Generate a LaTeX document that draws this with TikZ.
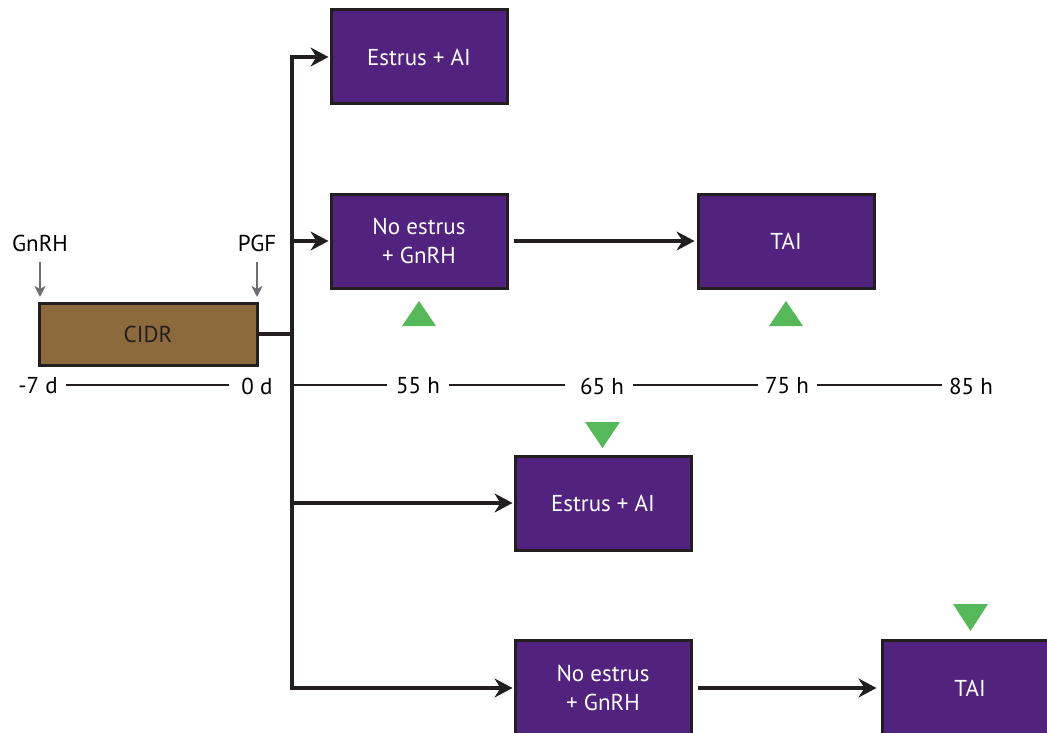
\documentclass[tikz,border=0pt]{standalone}
\usepackage{fontspec}
\setmainfont{PT Sans}
\usetikzlibrary{arrows.meta}
\definecolor{boxpurple}{HTML}{51237F}
\definecolor{cidrbrown}{HTML}{8C6A3B}
\definecolor{edge}{HTML}{231F20}
\definecolor{grayarr}{HTML}{6D6E71}
\definecolor{tri}{HTML}{55B95A}
\tikzset{
  pbox/.style={draw=edge, line width=3pt, fill=boxpurple, text=white, minimum width=176pt, minimum height=94pt, align=center, font=\fontsize{23}{29}\selectfont, inner sep=0pt},
  cidrbox/.style={draw=edge, line width=3pt, fill=cidrbrown, text=edge, minimum width=218pt, minimum height=62pt, font=\fontsize{23}{26}\selectfont, inner sep=0pt},
  lbl/.style={text=black, font=\fontsize{23}{26}\selectfont, inner sep=0pt},
  flow/.style={draw=edge, line width=4.5pt, -{Stealth[length=18pt,width=19pt,inset=6pt]}},
  trunk/.style={draw=edge, line width=4.5pt},
  gray arrow/.style={draw=grayarr, line width=2.2pt, -{Stealth[length=11pt,width=11pt,inset=3pt]}},
  tline/.style={draw=edge, line width=2.5pt},
  uptri/.style={fill=tri, draw=none},
}
\begin{document}
\begin{tikzpicture}[x=1pt,y=-1pt]
\useasboundingbox (0,0) rectangle (1047,733);
\clip (0,0) rectangle (1047,733);
% CIDR and labels
\node[cidrbox] (cidr) at (148,334) {CIDR};
\node[lbl] (gnrh) at (40,243) {GnRH};
\node[lbl] (pgf) at (257,243) {PGF};
\coordinate (gnrhA) at (40,262);
\coordinate (gnrhB) at (40,297);
\coordinate (pgfA) at (257,262);
\coordinate (pgfB) at (257,297);
\draw[gray arrow] (gnrhA) -- (gnrhB);
\draw[gray arrow] (pgfA) -- (pgfB);
% boxes
\node[pbox] (b1) at (419,57) {Estrus + AI};
\node[pbox] (b2) at (419,241) {No estrus\\+ GnRH};
\node[pbox] (t1) at (786,241) {TAI};
\node[pbox] (b3) at (603,503) {Estrus + AI};
\node[pbox, minimum height=96pt] (b4) at (603,688) {No estrus\\+ GnRH};
\node[pbox, minimum height=96pt] (t2) at (970,688) {TAI};
% trunk
\coordinate (jt) at (292,57);
\coordinate (jc) at (292,334);
\coordinate (j2) at (292,241);
\coordinate (j3) at (292,503);
\coordinate (jb) at (292,688);
\draw[trunk] (cidr.east) -- (jc);
\draw[trunk] ([yshift=2pt]jb) -- ([yshift=-2pt]jt);
\draw[flow] ([xshift=-2pt]jt) -- ([xshift=-1pt]b1.west);
\draw[flow] (j2) -- ([xshift=-1pt]b2.west);
\draw[flow] (j3) -- ([xshift=-1pt]b3.west);
\draw[flow] ([xshift=-2pt]jb) -- ([xshift=-1pt]b4.west);
\draw[flow] ([xshift=5pt]b2.east) -- ([xshift=-2pt]t1.west);
\draw[flow] ([xshift=5pt]b4.east) -- ([xshift=-4pt]t2.west);
% timeline
\node[lbl] (m7) at (38,386) {-7 d};
\node[lbl] (d0) at (257,386) {0 d};
\node[lbl] (h55) at (418,386) {55 h};
\node[lbl] (h65) at (602,386) {65 h};
\node[lbl] (h75) at (787,386) {75 h};
\node[lbl] (h85) at (971,386) {85 h};
\coordinate (tl0) at (292,385);
\draw[tline] (66,385) -- (229,385);
\draw[tline] (tl0) -- (387,385);
\draw[tline] (449,385) -- (565,385);
\draw[tline] (633,385) -- (758,385);
\draw[tline] (817,385) -- (942,385);
% triangles
\path[uptri] (402,326) -- (436,326) -- (419,301) -- cycle;
\path[uptri] (769,326) -- (803,326) -- (786,301) -- cycle;
\path[uptri] (585,422) -- (620,422) -- (602.5,448) -- cycle;
\path[uptri] (953,604) -- (988,604) -- (970.5,631) -- cycle;
\end{tikzpicture}
\end{document}
